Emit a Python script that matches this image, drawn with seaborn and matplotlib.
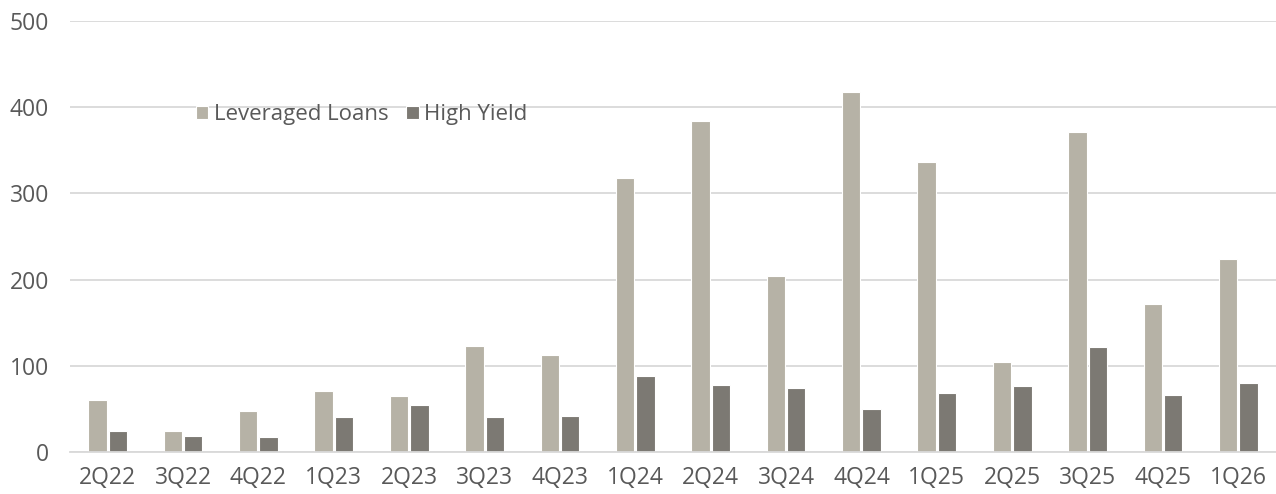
import numpy as np
import pandas as pd
import matplotlib
matplotlib.use("Agg")
import matplotlib.pyplot as plt
import seaborn as sns

quarters = ['2Q22', '3Q22', '4Q22', '1Q23', '2Q23', '3Q23', '4Q23', '1Q24',
            '2Q24', '3Q24', '4Q24', '1Q25', '2Q25', '3Q25', '4Q25', '1Q26']
lev_loans = [60, 24, 48, 71, 65, 123, 112, 318, 384, 204, 418, 336, 104, 371, 172, 224]
high_yield = [24, 19, 17, 41, 55, 41, 42, 88, 78, 74, 50, 68, 77, 122, 66, 80]

df = pd.DataFrame({
    'quarter': quarters * 2,
    'value': lev_loans + high_yield,
    'series': ['Leveraged Loans'] * len(quarters) + ['High Yield'] * len(quarters),
})

sns.set_style('white')
plt.rcParams['font.family'] = ['Open Sans', 'DejaVu Sans']

fig = plt.figure(figsize=(12.76, 4.94), dpi=100)
ax = fig.add_axes([70 / 1276, 1 - 452 / 494, 1206 / 1276, 431 / 494])

sns.barplot(data=df, x='quarter', y='value', hue='series',
            palette=['#B9B3A3', '#7E7A71'], width=0.54, gap=0.1,
            edgecolor='white', linewidth=0.8, ax=ax)

ax.set_ylim(0, 500)
ax.set_yticks(range(0, 501, 100))
ax.yaxis.grid(True, color='#D9D9D9', linewidth=1.3)
ax.set_axisbelow(True)
for s in ['top', 'right', 'left']:
    ax.spines[s].set_visible(False)
ax.spines['bottom'].set_color('#D9D9D9')
ax.spines['bottom'].set_linewidth(1.3)
ax.set_xlim(-0.5, 15.5)
ax.tick_params(axis='both', length=0, labelsize=16.5, labelcolor='#595959')
ax.tick_params(axis='y', pad=15)
ax.tick_params(axis='x', pad=10)
ax.set_xlabel('')
ax.set_ylabel('')

ax.legend(loc='center left', bbox_to_anchor=(0.088, 0.782), frameon=False,
          ncol=2, fontsize=16, labelcolor='#595959', handlelength=0.55,
          handleheight=0.55, handletextpad=0.25, columnspacing=0.8)

fig.savefig('out.png', dpi=100)
